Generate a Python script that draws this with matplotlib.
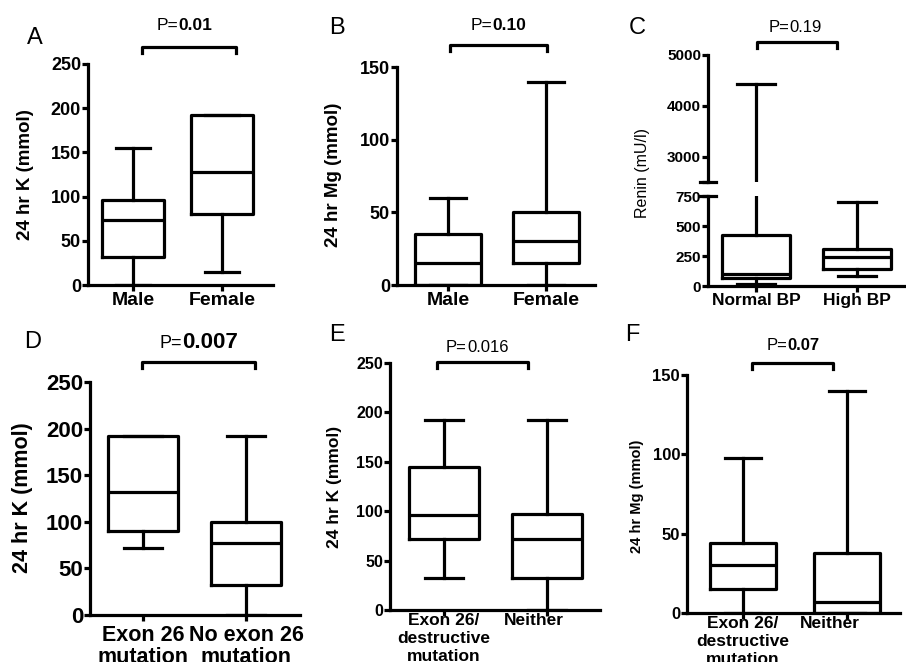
import matplotlib
matplotlib.use("Agg")
import matplotlib.pyplot as plt
import matplotlib.transforms as mtransforms
from matplotlib.lines import Line2D

plt.rcParams['font.family'] = ['Liberation Sans', 'DejaVu Sans']

W, H = 906, 662
LW = 2.3

# box stats per group: (whisker low, q1, median, q3, whisker high)
k_sex = [(0, 32, 73, 96, 155), (15, 80, 128, 192, 192)]
mg_sex = [(0, 0, 15, 35, 60), (0, 15, 30, 50, 140)]
renin_bp = [(20, 65, 100, 425, 4420), (80, 145, 240, 310, 700)]
k_exon = [(72, 90, 132, 192, 192), (0, 32, 77, 100, 192)]
k_destr = [(32, 72, 96, 145, 192), (0, 32, 72, 97, 192)]
mg_destr = [(0, 15, 30, 44, 98), (0, 0, 7, 38, 140)]

sex_labels = ['Male', 'Female']
bp_labels = ['Normal BP', 'High BP']
exon_labels = ['Exon 26\nmutation', 'No exon 26\nmutation']
destr_labels = ['Exon 26/\ndestructive\nmutation', 'Neither']

k_ticks = [0, 50, 100, 150, 200, 250]
mg_ticks = [0, 50, 100, 150]
renin_low_ticks = [0, 250, 500, 750]
renin_high_ticks = [2500, 3000, 4000, 5000]

fig = plt.figure(figsize=(W / 100, H / 100), dpi=100)


def px_axes(L, R, top, bottom):
    return fig.add_axes([L / W, 1 - bottom / H, (R - L) / W, (bottom - top) / H])


def style(ax, size):
    ax.spines['top'].set_visible(False)
    ax.spines['right'].set_visible(False)
    ax.spines['left'].set_linewidth(LW)
    ax.spines['bottom'].set_linewidth(LW)
    ax.tick_params(direction='out', length=4, width=LW, labelsize=size, pad=1)
    ax.set_facecolor('none')


def draw_boxes(ax, groups, L, R, p1, p2, width=0.68):
    stats = [dict(whislo=g[0], q1=g[1], med=g[2], q3=g[3], whishi=g[4], fliers=[])
             for g in groups]
    kw = dict(color='black', linewidth=LW)
    ax.bxp(stats, positions=[1, 2], widths=width, capwidths=width * 0.55,
           showfliers=False, boxprops=kw, whiskerprops=kw, capprops=kw,
           medianprops=kw, manage_ticks=False)
    unit = p2 - p1
    ax.set_xlim(1 - (p1 - L) / unit, 2 + (R - p2) / unit)


def set_ticks(ax, yt, ylabels, xlabels, ysize, xsize, ls=1.0, xpad=1):
    ax.set_yticks(yt)
    ax.set_yticklabels(ylabels, fontweight='bold', fontsize=ysize)
    ax.set_xticks([1, 2])
    ax.set_xticklabels(xlabels, fontweight='bold', fontsize=xsize, linespacing=ls,
                       va='top')
    ax.tick_params(axis='x', pad=xpad)


def shift_label(ax, idx, dx_px):
    lab = ax.get_xticklabels()[idx]
    lab.set_transform(lab.get_transform() +
                      mtransforms.ScaledTranslation(dx_px / 100, 0, fig.dpi_scale_trans))


def bracket(x1, x2, y, drop=6):
    fig.add_artist(Line2D([x1 / W, x1 / W, x2 / W, x2 / W],
                          [1 - (y + drop) / H, 1 - y / H, 1 - y / H, 1 - (y + drop) / H],
                          transform=fig.transFigure, color='black', lw=LW))


def ptext(split, y, value, s1, s2, bold_value=True):
    fig.text(split / W, 1 - y / H, 'P=', ha='right', va='center', fontsize=s1)
    fig.text(split / W, 1 - y / H, value, ha='left', va='center', fontsize=s2,
             fontweight='bold' if bold_value else 'normal')


def ylabel(x, y, text, size, weight='bold'):
    fig.text(x / W, 1 - y / H, text, rotation=90, ha='center', va='center',
             fontsize=size, fontweight=weight)


def letter(x, y, text):
    fig.text(x / W, 1 - y / H, text, ha='center', va='center', fontsize=17)


# A
ax = px_axes(88, 273, 64, 285)
style(ax, 13)
draw_boxes(ax, k_sex, 88, 273, 133, 222, 0.69)
ax.set_ylim(0, 250)
set_ticks(ax, k_ticks, [str(t) for t in k_ticks], sex_labels, 13, 14)
ylabel(25, 175, '24 hr K (mmol)', 13.5)
letter(35, 38, 'A')
bracket(142, 236, 47)
ptext(178, 25, '0.01', 12.5, 12.5)

# B
ax = px_axes(397, 595, 67, 285)
style(ax, 13)
draw_boxes(ax, mg_sex, 397, 595, 448, 546, 0.68)
ax.set_ylim(0, 150)
set_ticks(ax, mg_ticks, [str(t) for t in mg_ticks], sex_labels, 13, 14)
ylabel(333, 175, '24 hr Mg (mmol)', 13.5)
letter(337, 28, 'B')
bracket(450, 547, 45)
ptext(492, 25, '0.10', 12.5, 12.5)

# C (broken axis)
ax_lo = px_axes(708, 906, 196, 286)
style(ax_lo, 11)
draw_boxes(ax_lo, renin_bp, 708, 906, 756, 857, 0.67)
ax_lo.set_ylim(0, 750)
set_ticks(ax_lo, renin_low_ticks, [str(t) for t in renin_low_ticks], bp_labels, 11, 12.5)
ax_hi = px_axes(708, 906, 55, 182)
style(ax_hi, 11)
ax_hi.spines['bottom'].set_visible(False)
draw_boxes(ax_hi, renin_bp, 708, 906, 756, 857, 0.67)
ax_hi.set_ylim(2500, 5000)
ax_hi.set_yticks(renin_high_ticks)
ax_hi.set_yticklabels([''] + [str(t) for t in renin_high_ticks[1:]],
                      fontweight='bold', fontsize=11)
ax_hi.set_xticks([])
for a, yv in [(ax_hi, 2500), (ax_lo, 750)]:
    a.plot([-0.04, 0.04], [yv, yv], color='black', lw=LW, clip_on=False,
           transform=a.get_yaxis_transform())
ylabel(642, 173, 'Renin (mU/l)', 11.5, 'normal')
letter(637, 28, 'C')
bracket(757, 837, 42)
ptext(789, 27, '0.19', 12, 12, False)

# D
ax = px_axes(90, 300, 382, 615)
style(ax, 16)
draw_boxes(ax, k_exon, 90, 300, 143, 246, 0.68)
ax.set_ylim(0, 250)
set_ticks(ax, k_ticks, [str(t) for t in k_ticks], exon_labels, 16, 15.5, 1.1, 3)
ylabel(23, 498, '24 hr K (mmol)', 15.5)
letter(33, 342, 'D')
bracket(142, 255, 362)
ptext(182, 343, '0.007', 13, 16)

# E
ax = px_axes(390, 600, 363, 610)
style(ax, 11.5)
draw_boxes(ax, k_destr, 390, 600, 444, 547, 0.68)
ax.set_ylim(0, 250)
set_ticks(ax, k_ticks, [str(t) for t in k_ticks], destr_labels, 11.5, 12.5, 1.25, -2)
shift_label(ax, 1, -13)
ylabel(335, 487, '24 hr K (mmol)', 12.5)
letter(337, 335, 'E')
bracket(437, 528, 362)
ptext(467, 347, '0.016', 12, 12, False)

# F
ax = px_axes(687, 900, 375, 613)
style(ax, 12)
draw_boxes(ax, mg_destr, 687, 900, 743, 847, 0.64)
ax.set_ylim(0, 150)
set_ticks(ax, mg_ticks, [str(t) for t in mg_ticks], destr_labels, 12, 12.5, 1.25, -2)
shift_label(ax, 1, -17)
ylabel(637, 496, '24 hr Mg (mmol)', 10.5)
letter(632, 335, 'F')
bracket(752, 833, 363)
ptext(787, 345, '0.07', 12, 12)

fig.savefig('out.png', dpi=100)
